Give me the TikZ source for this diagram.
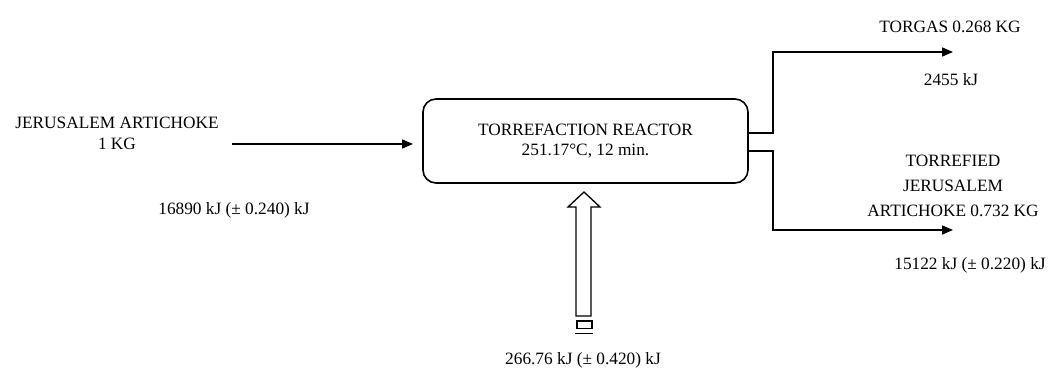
\documentclass[tikz,border=0pt]{standalone}
\usepackage{fontspec}
\setmainfont{Liberation Serif}
\usetikzlibrary{arrows.meta}
\tikzset{
  lbl/.style={inner sep=0pt, align=center, font=\fontsize{17.3}{21}\selectfont},
  lblwide/.style={lbl, font=\fontsize{17.3}{25}\selectfont},
  flow/.style={line width=1.6pt, -{Triangle[length=11pt,width=9pt]}},
  reactor/.style={draw, line width=1.6pt, rounded corners=13pt, minimum width=325pt, minimum height=84pt, align=center, font=\fontsize{17.3}{20}\selectfont},
}
\begin{document}
\begin{tikzpicture}[x=1pt,y=-1pt]
\useasboundingbox (0,0) rectangle (1052,374);
\node[reactor] (box) at (585.5,141) {TORREFACTION REACTOR\\251.17°C, 12 min.};
% input
\node[lbl] (inlbl) at (117,133) {JERUSALEM ARTICHOKE\\1 KG};
\node[lbl] (inE) at (234,210) {16890 kJ (± 0.240) kJ};
\coordinate (in0) at (232,144);
\coordinate (in1) at (413,144);
\draw[flow] (in0) -- (in1);
% outputs
\coordinate (o1s) at (748,133);
\coordinate (o1c) at (773,52);
\coordinate (o1e) at (953,52);
\coordinate (o2s) at (748,151);
\coordinate (o2c) at (773,230);
\coordinate (o2e) at (953,230);
\draw[flow] (o1s) -| (o1c) -- (o1e);
\draw[flow] (o2s) -| (o2c) -- (o2e);
\node[lbl] (torgas) at (950,27) {TORGAS 0.268 KG};
\node[lbl] (torgasE) at (951,80) {2455 kJ};
\node[lblwide] (tja) at (953,186) {TORREFIED\\JERUSALEM\\ARTICHOKE 0.732 KG};
\node[lbl] (tjaE) at (970,265) {15122 kJ (± 0.220) kJ};
% heat input hollow arrow
\draw[line width=1.3pt, line join=miter]
  (576,316) -- (576,207) -- (568,207) -- (584,192) -- (600,207) -- (591,207) -- (591,316) -- cycle;
\draw[line width=1.3pt] (577,321) rectangle (592,328.5);
\draw[line width=1.5pt] (575,333.5) -- (593,333.5);
\node[lbl] (heatE) at (583,360) {266.76 kJ (± 0.420) kJ};
\end{tikzpicture}
\end{document}
